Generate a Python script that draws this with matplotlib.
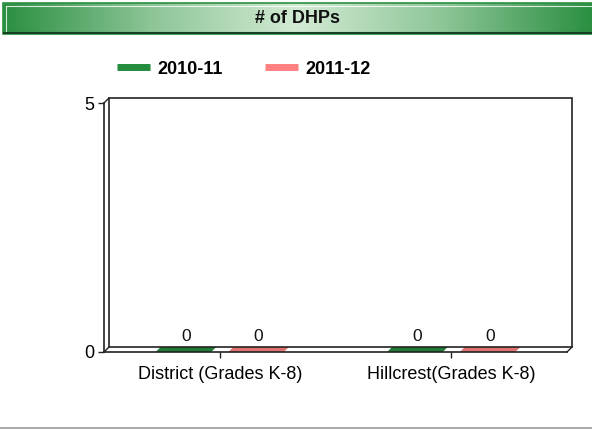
import numpy as np
import matplotlib
matplotlib.use('Agg')
import matplotlib.pyplot as plt
from matplotlib.patches import Rectangle, Polygon
from matplotlib.lines import Line2D
from matplotlib.colors import LinearSegmentedColormap

# data
categories = ['District (Grades K-8)', 'Hillcrest(Grades K-8)']
series_names = ['2010-11', '2011-12']
dhp_2010_11 = [0, 0]
dhp_2011_12 = [0, 0]
y_ticks = [0, 5]

W, H = 592, 430
plt.rcParams['font.family'] = ['Liberation Sans', 'DejaVu Sans']

fig = plt.figure(figsize=(W / 100, H / 100), dpi=100)

def fx(px):
    return px / W

def fy(py):
    return 1 - py / H

# title bar with green gradient
tax = fig.add_axes([fx(3), fy(34), fx(592) - fx(3), fy(3) - fy(34)])
grad = np.abs(np.linspace(-1, 1, 300))[None, :]
cmap = LinearSegmentedColormap.from_list('bar', ['#d2ead3', '#8cc596', '#2b8f42'])
tax.imshow(grad, aspect='auto', cmap=cmap, extent=[0, 1, 0, 1])
tax.set_xlim(0, 1)
tax.set_ylim(0, 1)
tax.axis('off')
tax.add_patch(Rectangle((0, 0), 1, 1, transform=tax.transAxes, fill=False,
                        ec='#2b8f42', lw=1.2, clip_on=False))
tax.add_line(Line2D([0.005, 1], [0.90, 0.90], color='white', lw=0.8, alpha=0.8))
tax.add_line(Line2D([0.005, 0.005], [0.1, 0.9], color='white', lw=0.8, alpha=0.8))
tax.add_line(Line2D([0, 1], [0.04, 0.04], color='#173f22', lw=1.5))
tax.text(0.5, 0.5, '# of DHPs', ha='center', va='center', fontsize=13,
         fontweight='bold', color='#111111')

# main axes = front face of the 3d box
left, right, top, bottom = 104, 567, 103, 352
ax = fig.add_axes([fx(left), fy(bottom), fx(right) - fx(left), fy(top) - fy(bottom)])
ax.set_xlim(-0.5, 1.5)
ax.set_ylim(0, 5)
ax.patch.set_alpha(0)
for s in ['top', 'right']:
    ax.spines[s].set_visible(False)
for s in ['left', 'bottom']:
    ax.spines[s].set_color('#222222')
    ax.spines[s].set_linewidth(1.2)
    ax.spines[s].set_zorder(5)

depth = 5
# back wall of the box and the corner joins
fig.add_artist(Rectangle((fx(left + depth), fy(bottom - depth)),
                         fx(right + depth) - fx(left + depth),
                         fy(top - depth) - fy(bottom - depth),
                         fill=False, ec='#222222', lw=1.2))
for (x0, y0) in [(left, top), (left, bottom), (right, bottom)]:
    fig.add_artist(Line2D([fx(x0), fx(x0 + depth)], [fy(y0), fy(y0 - depth)],
                          color='#222222', lw=1.0))

x = np.arange(len(categories))
off = 0.157
width = 0.24
dx = depth / ((right - left) / 2.0)
dy = depth / ((bottom - top) / 5.0)

bar_cols = ['#1f7b35', '#e27272']
for vals, sign, col in [(dhp_2010_11, -1, bar_cols[0]), (dhp_2011_12, 1, bar_cols[1])]:
    xs = x + sign * off
    ax.bar(xs, vals, width, color=col, zorder=2)
    for xc, v in zip(xs, vals):
        x0, x1 = xc - width / 2, xc + width / 2
        ax.add_patch(Polygon([(x0, v), (x1, v), (x1 + dx, v + dy), (x0 + dx, v + dy)],
                             closed=True, fc=col, ec='none', zorder=3, clip_on=False))
        ax.annotate(str(v), (xc + dx / 2, v), xytext=(0, 6), textcoords='offset points',
                    ha='center', va='bottom', fontsize=12.5, color='#111111')

ax.set_xticks(x)
ax.set_xticklabels(categories, fontsize=13)
ax.set_yticks(y_ticks)
ax.set_yticklabels([str(t) for t in y_ticks], fontsize=13)
ax.tick_params(axis='x', length=4, width=1, color='#222222', pad=6)
ax.tick_params(axis='y', length=4, width=1, color='#222222', pad=3)

# legend
legend_cols = ['#238c3d', '#ff8080']
handles = [Line2D([], [], color=c, lw=5, solid_capstyle='butt') for c in legend_cols]
fig.legend(handles, series_names, loc='center left',
           bbox_to_anchor=(fx(117), fy(69)), ncol=2, frameon=False,
           prop={'weight': 'bold', 'size': 13}, handlelength=1.85,
           handletextpad=0.4, columnspacing=2.3, borderaxespad=0, borderpad=0)

# gray rule at the bottom
fig.add_artist(Line2D([0, 1], [fy(428), fy(428)], color='#9a9a9a', lw=1.2))

fig.savefig('out.png', dpi=100)
